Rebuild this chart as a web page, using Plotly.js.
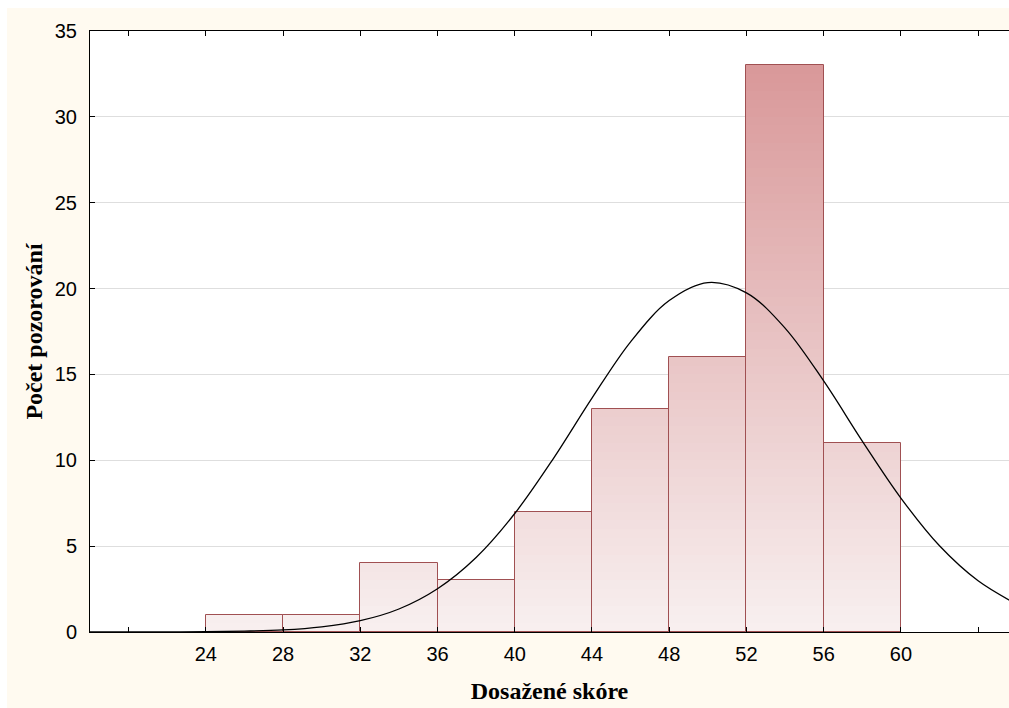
<!DOCTYPE html>
<html>
<head>
<meta charset="utf-8">
<script src="https://cdn.plot.ly/plotly-3.0.1.min.js"></script>
<style>html,body{margin:0;padding:0;background:#fff;}#chart{width:1009px;height:708px;}</style>
</head>
<body>
<div id="chart"></div>
<script>
// Histogram bins (left edge 24..56, width 4) and counts
const binLeft = [24, 28, 32, 36, 40, 44, 48, 52, 56];
const binWidth = 4;
const counts = [1, 1, 4, 3, 7, 13, 16, 33, 11];

// Fitted normal curve
const curveX = [18, 20, 22, 24, 26, 28, 30, 32, 34, 36, 38, 40, 42, 44, 46, 48, 50, 52, 54, 56, 58, 60, 62, 64, 66];
const curveY = [0.00, 0.00, 0.01, 0.02, 0.05, 0.12, 0.30, 0.66, 1.34, 2.52, 4.34, 6.90, 10.10, 13.62, 16.90, 19.30, 20.35, 19.75, 17.70, 14.62, 11.12, 7.80, 5.02, 2.98, 1.62];

const xTickVals = [20, 24, 28, 32, 36, 40, 44, 48, 52, 56, 60, 64];
const xTickText = ['', '24', '28', '32', '36', '40', '44', '48', '52', '56', '60', ''];
const yTickVals = [0, 5, 10, 15, 20, 25, 30, 35];

const binCenter = binLeft.map(v => v + binWidth / 2);
const maxCount = Math.max(...counts);

// gradient colour by absolute height
const cLow = [248, 240, 240], cHigh = [217, 152, 153];
function colAt(v) {
  const t = Math.max(0, Math.min(1, v / maxCount));
  const c = cLow.map((a, i) => Math.round(a + (cHigh[i] - a) * t));
  return 'rgb(' + c.join(',') + ')';
}

const traces = [];
const step = 0.5;
const levels = [];
for (let L = maxCount; L > 0; L -= step) levels.push(L);
levels.forEach(L => {
  traces.push({
    type: 'bar', x: binCenter, y: counts.map(c => Math.min(c, L)), width: binWidth,
    marker: {color: colAt(L - step / 2), line: {width: 0}},
    hoverinfo: 'skip', showlegend: false
  });
});
traces.push({
  type: 'bar', x: binCenter, y: counts, width: binWidth,
  marker: {color: 'rgba(0,0,0,0)', line: {color: 'rgb(160,80,82)', width: 1}},
  hoverinfo: 'x+y', showlegend: false
});
traces.push({
  type: 'scatter', mode: 'lines', x: curveX, y: curveY,
  line: {color: '#000', width: 1.3, shape: 'spline'},
  hoverinfo: 'skip', showlegend: false
});

const cream = '#FFFAF0';
const layout = {
  width: 1009, height: 708,
  margin: {l: 90, r: 0, t: 31, b: 76},
  paper_bgcolor: cream, plot_bgcolor: '#FFFFFF',
  barmode: 'overlay', bargap: 0,
  font: {family: 'Liberation Sans, Arial, sans-serif', size: 20, color: '#000'},
  xaxis: {
    range: [18, 65.6], tickvals: xTickVals, ticktext: xTickText,
    ticks: 'inside', ticklen: 5, tickcolor: '#000', tickwidth: 1,
    showline: true, linecolor: '#000', linewidth: 1, mirror: 'ticks',
    showgrid: false, zeroline: false, ticklabelstandoff: 4,
    title: {text: '<b>Dosažené skóre</b>', font: {family: 'Liberation Serif, Times New Roman, serif', size: 24}, standoff: 18}
  },
  yaxis: {
    range: [0, 35], tickvals: yTickVals,
    ticks: 'inside', ticklen: 5, tickcolor: '#000', tickwidth: 1,
    showline: true, linecolor: '#000', linewidth: 1, mirror: false,
    showgrid: true, gridcolor: '#DEDEDE', gridwidth: 1, zeroline: false,
    ticklabelstandoff: 8,
    title: {text: '<b>Počet pozorování</b>', font: {family: 'Liberation Serif, Times New Roman, serif', size: 24}, standoff: 5}
  },
  shapes: [
    {type: 'rect', xref: 'paper', yref: 'paper', x0: -0.2, x1: 1.1, y0: (632 - 8) / 601, y1: 1.2, fillcolor: '#FFFFFF', line: {width: 0}, layer: 'above'},
    {type: 'rect', xref: 'paper', yref: 'paper', x0: -0.2, x1: (7 - 90) / 919, y0: -0.3, y1: 1.2, fillcolor: '#FFFFFF', line: {width: 0}, layer: 'above'}
  ]
};

Plotly.newPlot('chart', traces, layout, {displayModeBar: false, staticPlot: false});
</script>
</body>
</html>
